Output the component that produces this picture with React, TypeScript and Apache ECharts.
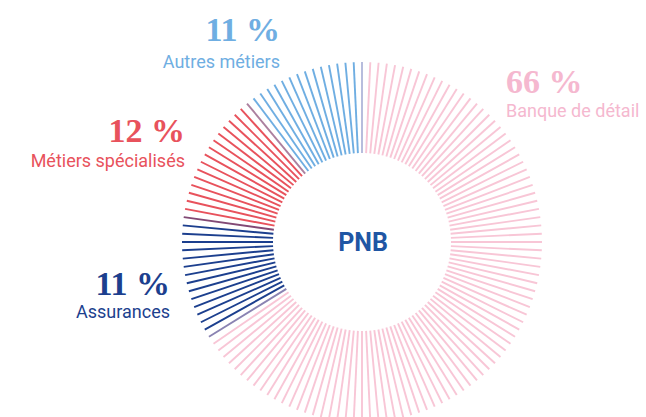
import React, { useEffect, useRef } from "react";
import * as echarts from "echarts";

const categories = ["Banque de détail", "Assurances", "Métiers spécialisés", "Autres métiers"];
const shares = [66, 11, 12, 11];
const percentLabels = ["66 %", "11 %", "12 %", "11 %"];
const lineColors = ["#f8c6d6", "#1c3f8e", "#e8525c", "#6faee2"];
const labelColors = ["#f5b8cf", "#1c3f8e", "#e8525c", "#6faee2"];
const centerTitle = "PNB";
const TICK_COUNT = 136;

function hexToRgb(h: string) {
  const n = parseInt(h.slice(1), 16);
  return [(n >> 16) & 255, (n >> 8) & 255, n & 255];
}
function blend(a: string, b: string) {
  const x = hexToRgb(a);
  const y = hexToRgb(b);
  return `rgb(${Math.round((x[0] + y[0]) / 2)},${Math.round((x[1] + y[1]) / 2)},${Math.round((x[2] + y[2]) / 2)})`;
}

function buildTicks() {
  const step = 100 / TICK_COUNT;
  const bounds: number[] = [];
  let acc = 0;
  shares.forEach((s) => {
    acc += s;
    bounds.push(acc);
  });
  const ticks: [number, number, number][] = [];
  for (let i = 0; i < TICK_COUNT; i++) {
    const a = i * step;
    let seg = 0;
    while (seg < shares.length - 1 && a >= bounds[seg]) seg++;
    let blendWith = -1;
    if (i === 0) blendWith = shares.length - 1;
    for (let b = 0; b < bounds.length - 1; b++) {
      const bv = bounds[b];
      if (Math.abs(a - bv) <= step / 2 + 1e-9) {
        blendWith = a >= bv ? b : b + 1;
      }
    }
    ticks.push([a, seg, blendWith]);
  }
  return ticks;
}

export default function App() {
  const ref = useRef<HTMLDivElement>(null);
  useEffect(() => {
    if (!ref.current) return;
    const chart = echarts.init(ref.current, undefined, { renderer: "svg" });
    const ticks = buildTicks();
    const CX = 362;
    const CY = 242;
    const R = 180;
    const INNER = 89 / 180;
    const serif = "'Liberation Serif', 'DejaVu Serif', serif";
    const sans = "Roboto, 'Noto Sans', sans-serif";

    const labelPos = [
      { x: 506, y: 81, sy: 110, align: "left" },
      { x: 170, y: 283, sy: 311, align: "right" },
      { x: 185, y: 130, sy: 160, align: "right" },
      { x: 280, y: 29, sy: 61, align: "right" },
    ];

    const graphics: any[] = [];
    categories.forEach((c, i) => {
      const p = labelPos[i];
      graphics.push({
        type: "text",
        x: p.x,
        y: p.y,
        style: {
          text: percentLabels[i],
          fill: labelColors[i],
          font: `bold 34px ${serif}`,
          textAlign: p.align,
          textVerticalAlign: "middle",
        },
      });
      graphics.push({
        type: "text",
        x: p.x,
        y: p.sy,
        style: {
          text: c,
          fill: labelColors[i],
          font: `18px ${sans}`,
          textAlign: p.align,
          textVerticalAlign: "middle",
        },
      });
    });
    graphics.push({
      type: "text",
      x: 363,
      y: 242,
      style: {
        text: centerTitle,
        fill: "#1f56a4",
        font: `bold 25px ${sans}`,
        textAlign: "center",
        textVerticalAlign: "middle",
      },
    });

    chart.setOption({
      animation: false,
      polar: { center: [CX, CY], radius: [0, R] },
      angleAxis: {
        type: "value",
        min: 0,
        max: 100,
        startAngle: 90,
        clockwise: true,
        show: false,
      },
      radiusAxis: { type: "value", min: 0, max: 1, show: false },
      graphic: graphics,
      series: [
        {
          type: "custom",
          coordinateSystem: "polar",
          data: ticks.map((t) => [1, t[0], t[1], t[2]]),
          renderItem: (params: any, api: any) => {
            const ang = api.value(1);
            const seg = api.value(2);
            const bw = api.value(3);
            const p0 = api.coord([INNER, ang]);
            const p1 = api.coord([1, ang]);
            const color = bw >= 0 ? blend(lineColors[seg], lineColors[bw]) : lineColors[seg];
            return {
              type: "line",
              shape: { x1: p0[0], y1: p0[1], x2: p1[0], y2: p1[1] },
              style: { stroke: color, lineWidth: 1.9 },
            };
          },
        },
      ],
    });
    return () => chart.dispose();
  }, []);
  return (
    <div
      ref={ref}
      style={{ position: "fixed", left: 0, top: 0, width: 646, height: 417, background: "#fff" }}
    />
  );
}
